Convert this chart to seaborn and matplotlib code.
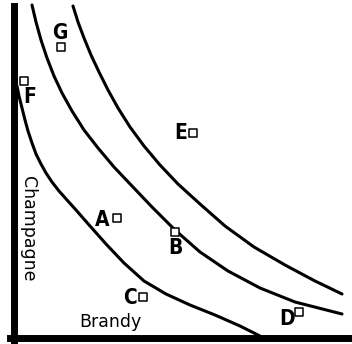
import matplotlib
matplotlib.use("Agg")
import matplotlib.pyplot as plt
import seaborn as sns

# Indifference curves (brandy, champagne)
curve1_brandy = [0, 2, 5, 8, 11, 15, 19, 24, 29, 35, 42, 50, 59, 73, 89, 107, 127, 149,
                 173, 198, 223, 243]
curve1_champ = [249, 239, 227, 215, 204, 192, 181, 171, 162, 153, 144, 135, 125, 109, 91,
                72, 54, 41, 30, 20, 9, -1]

curve2_brandy = [15, 19, 24, 30, 37, 45, 55, 67, 81, 97, 115, 135, 158, 183, 211, 243, 278, 325]
curve2_champ = [330, 313, 295, 277, 259, 242, 224, 205, 187, 168, 149, 128, 105, 83, 64, 47, 33, 21]

curve3_brandy = [56, 61, 67, 74, 82, 91, 101, 113, 127, 143, 161, 183, 208, 237, 268, 298, 325]
curve3_champ = [329, 313, 297, 280, 263, 245, 227, 208, 189, 170, 151, 131, 109, 88, 70, 54, 41]

# Bundles
bundle_names = ["A", "B", "C", "D", "E", "F", "G"]
bundle_brandy = [100, 158, 126, 282, 176, 7, 44]
bundle_champ = [117, 103, 38, 23, 202, 254, 288]

# label offsets (pixels) from each bundle marker
label_offsets = {"A": (-15, -2), "B": (0, -16), "C": (-13, -1), "D": (-12, -7),
                 "E": (-12, 0), "F": (6, -16), "G": (-1, 14)}

sns.set_style("white")
plt.rcParams["font.family"] = ["DejaVu Sans"]
plt.rcParams["text.color"] = "black"

fig = plt.figure(figsize=(3.52, 3.44), dpi=100)
ax = fig.add_axes([0, 0, 1, 1])

for xs, ys in [(curve1_brandy, curve1_champ), (curve2_brandy, curve2_champ),
               (curve3_brandy, curve3_champ)]:
    sns.lineplot(x=xs, y=ys, sort=False, estimator=None, color="black",
                 linewidth=2.2, solid_joinstyle="round", ax=ax)

sns.scatterplot(x=bundle_brandy, y=bundle_champ, marker="s", s=28,
                color="white", edgecolor="black", linewidth=1.1, zorder=3, ax=ax)

for name, bx, by in zip(bundle_names, bundle_brandy, bundle_champ):
    dx, dy = label_offsets[name]
    ax.annotate(name, (bx, by), xytext=(dx * 0.72, dy * 0.72), textcoords="offset points",
                ha="center", va="center", fontsize=15, fontweight="bold",
                fontstretch="condensed", color="black")

ax.set_xlim(-17, 335)
ax.set_ylim(-9, 335)

ax.text(93, 13, "Brandy", ha="center", va="center", fontsize=12.5)
ax.text(11, 106, "Champagne", ha="center", va="center", rotation=-90, fontsize=12.5)

for side in ["top", "right"]:
    ax.spines[side].set_visible(False)
ax.spines["left"].set_position(("data", -3.5))
ax.spines["left"].set_bounds(-6, 329)
ax.spines["bottom"].set_position(("data", -3))
ax.spines["bottom"].set_bounds(-7, 335)
for side in ["left", "bottom"]:
    ax.spines[side].set_linewidth(5)
    ax.spines[side].set_color("black")
ax.set_xticks([])
ax.set_yticks([])
ax.set_xlabel("")
ax.set_ylabel("")

fig.savefig("out.png", dpi=100)
